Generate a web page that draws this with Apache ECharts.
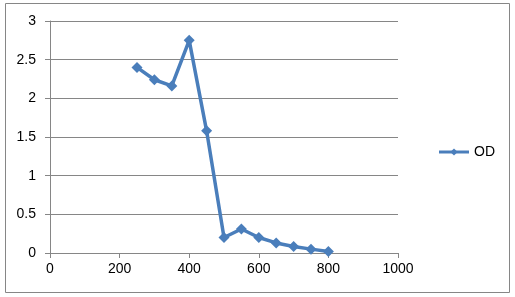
<!DOCTYPE html>
<html><head><meta charset="utf-8">
<script src="https://cdn.jsdelivr.net/npm/echarts@6/dist/echarts.min.js"></script>
<style>html,body{margin:0;padding:0;background:#fff}#c{width:515px;height:297px}</style>
</head><body><div id="c"></div>
<script>
const xValues = [250, 300, 350, 400, 450, 500, 550, 600, 650, 700, 750, 800];
const odValues = [2.40, 2.24, 2.16, 2.75, 1.58, 0.20, 0.31, 0.20, 0.13, 0.085, 0.05, 0.02];
const seriesName = 'OD';

const chart = echarts.init(document.getElementById('c'), null, {renderer: 'canvas'});
const axisColor = '#868686';
chart.setOption({
  animation: false,
  backgroundColor: '#fff',
  graphic: [{type: 'rect', shape: {x: 5.5, y: 3.5, width: 504, height: 289}, style: {fill: 'none', stroke: '#868686', lineWidth: 1}, silent: true}],
  grid: {left: 50, right: 117, top: 21, bottom: 44, containLabel: false},
  legend: {
    data: [seriesName], right: 15, top: 140, itemWidth: 30, itemHeight: 9, itemGap: 4,
    lineStyle: {width: 3},
    textStyle: {fontFamily: 'Liberation Sans', fontSize: 14, color: '#000'}
  },
  xAxis: {
    type: 'value', min: 0, max: 1000, interval: 200,
    axisLine: {show: true, lineStyle: {color: axisColor}},
    axisTick: {show: true, length: 5, lineStyle: {color: axisColor}},
    splitLine: {show: false},
    axisLabel: {fontFamily: 'Liberation Sans', fontSize: 14, color: '#000', margin: 9,
      formatter: v => String(v)}
  },
  yAxis: {
    type: 'value', min: 0, max: 3, interval: 0.5,
    axisLine: {show: true, lineStyle: {color: axisColor}},
    axisTick: {show: true, length: 5, lineStyle: {color: axisColor}},
    splitLine: {show: true, lineStyle: {color: axisColor}},
    axisLabel: {fontFamily: 'Liberation Sans', fontSize: 14, color: '#000', margin: 14,
      formatter: v => String(v)}
  },
  series: [{
    name: seriesName, type: 'line',
    data: xValues.map((x, i) => [x, odValues[i]]),
    symbol: 'diamond', symbolSize: 11,
    lineStyle: {color: '#4A7EBB', width: 3.5},
    itemStyle: {color: '#4A7EBB'}
  }]
});
</script></body></html>
